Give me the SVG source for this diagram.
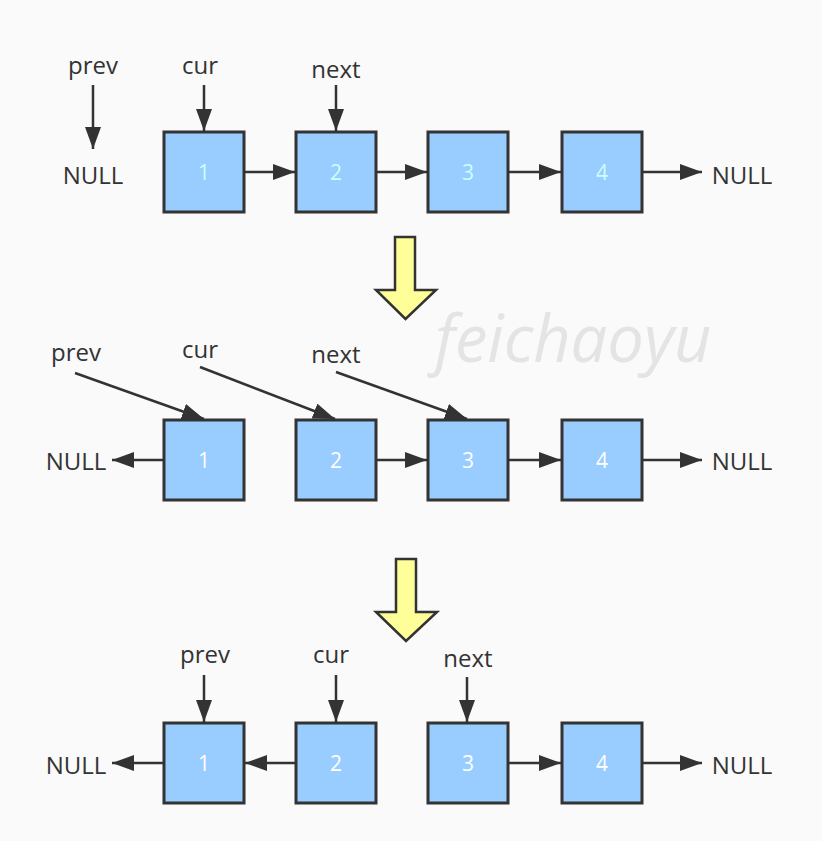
<svg xmlns="http://www.w3.org/2000/svg" width="822" height="841" viewBox="0 0 822 841">
<defs>
<marker id="ah" viewBox="0 0 22 16" refX="22" refY="8" markerWidth="22" markerHeight="16" markerUnits="userSpaceOnUse" orient="auto">
<path d="M0,0 L22,8 L0,16 z" fill="#333"/>
</marker>
<style>
.box{fill:#99ccff;stroke:#333;stroke-width:3}
.num{font-family:"Open Sans","Noto Sans",sans-serif;font-size:21px;fill:#ffffff;text-anchor:middle}
.r1 .num{fill:#ccffff}
.lbl{font-family:"Open Sans","Noto Sans",sans-serif;font-size:24px;fill:#333;text-anchor:middle}
.con{stroke:#333;stroke-width:2.5;fill:none;marker-end:url(#ah)}
.big{fill:#ffff99;stroke:#333;stroke-width:2.5}
</style>
</defs>
<rect width="822" height="841" fill="#fafafa"/>
<text x="573" y="362" font-family="'Open Sans','Noto Sans',sans-serif" font-size="65" font-style="italic" fill="#e4e4e4" text-anchor="middle">feichaoyu</text>

<!-- Row 1 -->
<g class="r1">
<g id="r1-n1"><rect class="box" x="164" y="132" width="80" height="80"/><text class="num" x="204" y="180">1</text></g>
<g id="r1-n2"><rect class="box" x="296" y="132" width="80" height="80"/><text class="num" x="336" y="180">2</text></g>
<g id="r1-n3"><rect class="box" x="428" y="132" width="80" height="80"/><text class="num" x="468" y="180">3</text></g>
<g id="r1-n4"><rect class="box" x="562" y="132" width="80" height="80"/><text class="num" x="602" y="180">4</text></g>
</g>
<g id="r1-labels">
<text class="lbl" x="93" y="74">prev</text>
<text class="lbl" x="200" y="74">cur</text>
<text class="lbl" x="336" y="78">next</text>
<text class="lbl" x="93" y="184">NULL</text>
<text class="lbl" x="742" y="184">NULL</text>
</g>

<!-- Row 2 -->
<g id="r2-n1"><rect class="box" x="164" y="420" width="80" height="80"/><text class="num" x="204" y="468">1</text></g>
<g id="r2-n2"><rect class="box" x="296" y="420" width="80" height="80"/><text class="num" x="336" y="468">2</text></g>
<g id="r2-n3"><rect class="box" x="428" y="420" width="80" height="80"/><text class="num" x="468" y="468">3</text></g>
<g id="r2-n4"><rect class="box" x="562" y="420" width="80" height="80"/><text class="num" x="602" y="468">4</text></g>
<g id="r2-labels">
<text class="lbl" x="76" y="361">prev</text>
<text class="lbl" x="200" y="358">cur</text>
<text class="lbl" x="336" y="363">next</text>
<text class="lbl" x="76" y="470">NULL</text>
<text class="lbl" x="742" y="470">NULL</text>
</g>

<!-- Row 3 -->
<g id="r3-n1"><rect class="box" x="164" y="723" width="80" height="80"/><text class="num" x="204" y="771">1</text></g>
<g id="r3-n2"><rect class="box" x="296" y="723" width="80" height="80"/><text class="num" x="336" y="771">2</text></g>
<g id="r3-n3"><rect class="box" x="428" y="723" width="80" height="80"/><text class="num" x="468" y="771">3</text></g>
<g id="r3-n4"><rect class="box" x="562" y="723" width="80" height="80"/><text class="num" x="602" y="771">4</text></g>
<g id="r3-labels">
<text class="lbl" x="205" y="663">prev</text>
<text class="lbl" x="331" y="663">cur</text>
<text class="lbl" x="468" y="667">next</text>
<text class="lbl" x="76" y="774">NULL</text>
<text class="lbl" x="742" y="774">NULL</text>
</g>

<!-- Step arrows -->
<g id="step1"><polygon class="big" points="395,237 415,237 415,290 436,290 405.5,319 376,290 395,290"/></g>
<g id="step2"><polygon class="big" points="396,559 416,559 416,612 437,612 406,641 376,612 396,612"/></g>

<g id="connectors">
<!-- row 1 -->
<line class="con" x1="93" y1="85" x2="93" y2="149"/>
<line class="con" x1="204" y1="85" x2="204" y2="131"/>
<line class="con" x1="336" y1="85" x2="336" y2="131"/>
<line class="con" x1="245" y1="172" x2="295" y2="172"/>
<line class="con" x1="377" y1="172" x2="427" y2="172"/>
<line class="con" x1="509" y1="172" x2="561" y2="172"/>
<line class="con" x1="643" y1="172" x2="702" y2="172"/>
<!-- row 2 -->
<line class="con" x1="75" y1="373" x2="204" y2="419"/>
<line class="con" x1="200" y1="367" x2="335" y2="419"/>
<line class="con" x1="336" y1="372" x2="467" y2="419"/>
<line class="con" x1="163" y1="460" x2="112" y2="460"/>
<line class="con" x1="377" y1="460" x2="427" y2="460"/>
<line class="con" x1="509" y1="460" x2="561" y2="460"/>
<line class="con" x1="643" y1="460" x2="702" y2="460"/>
<!-- row 3 -->
<line class="con" x1="204" y1="675" x2="204" y2="722"/>
<line class="con" x1="336" y1="675" x2="336" y2="722"/>
<line class="con" x1="467" y1="677" x2="467" y2="722"/>
<line class="con" x1="163" y1="763" x2="112" y2="763"/>
<line class="con" x1="295" y1="763" x2="245" y2="763"/>
<line class="con" x1="509" y1="763" x2="561" y2="763"/>
<line class="con" x1="643" y1="763" x2="702" y2="763"/>
</g>
</svg>
